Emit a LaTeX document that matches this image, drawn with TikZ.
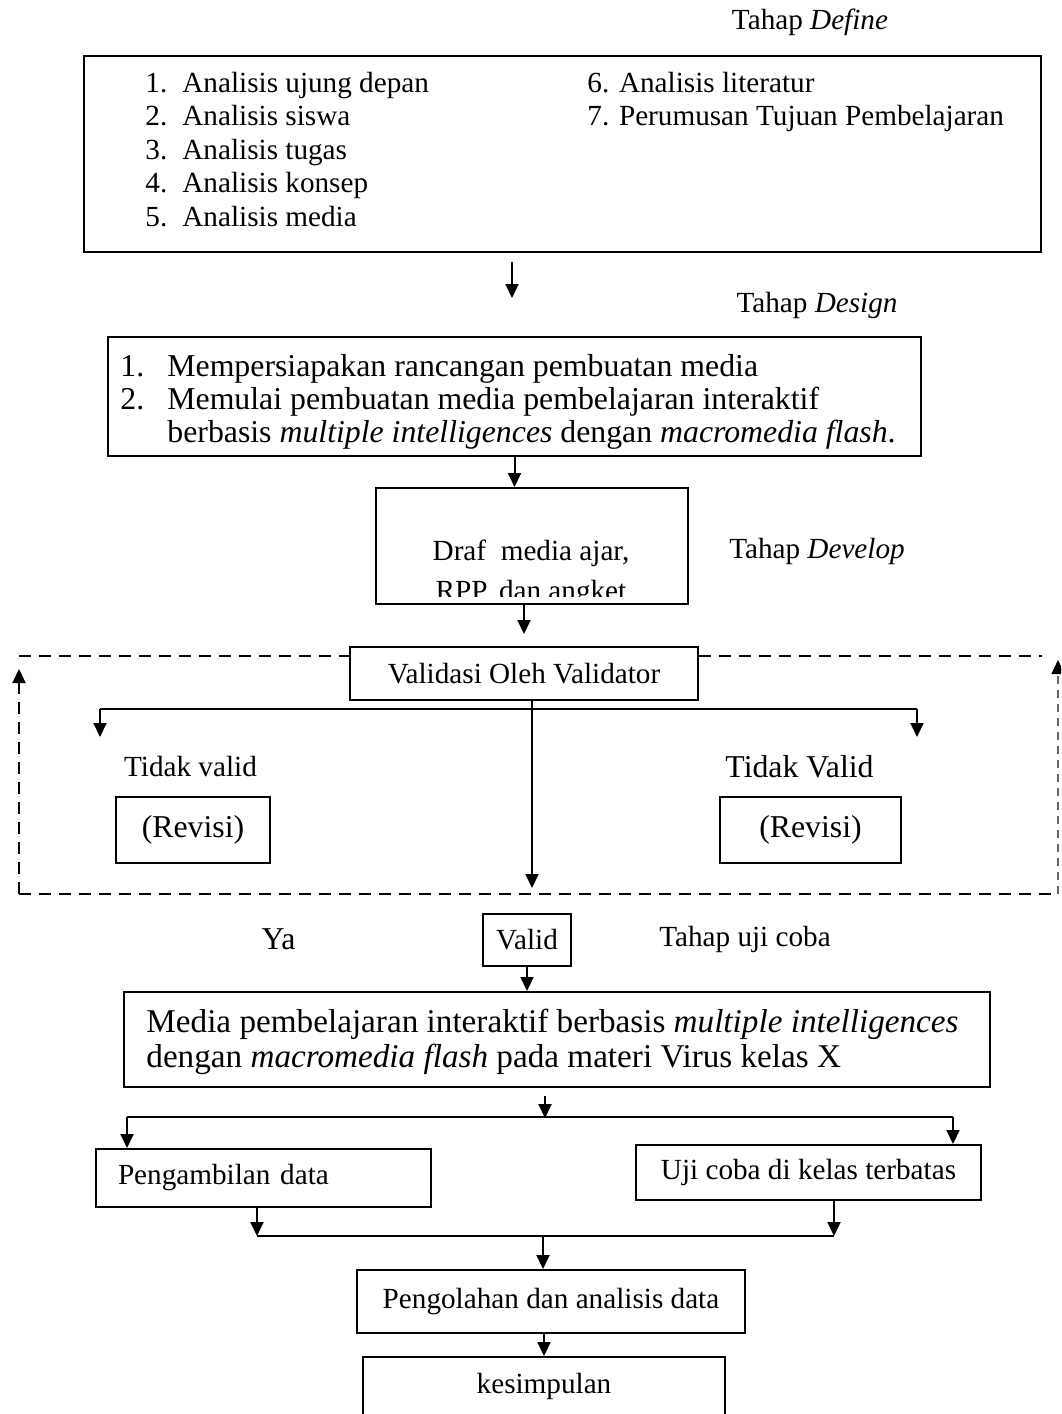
\documentclass[tikz,border=0pt]{standalone}
\usepackage{fontspec}
\setmainfont{Liberation Serif}
\usetikzlibrary{arrows.meta,positioning}
\tikzset{
  kotak/.style={draw,line width=1pt,inner sep=0pt},
  panah/.style={line width=1pt,-{Triangle[length=7pt,width=6.5pt]}},
  garis/.style={line width=1pt},
  putus/.style={line width=1pt,dash pattern=on 6pt off 4pt},
  teks/.style={inner sep=0pt,font=\fontsize{14.6}{16.8}\selectfont},
  teksbesar/.style={inner sep=0pt,font=\fontsize{15.9}{16.5}\selectfont},
  teksmedia/.style={inner sep=0pt,font=\fontsize{16.6}{17.5}\selectfont},
}

\begin{document}
\begin{tikzpicture}[x=0.5pt,y=-0.5pt]
\useasboundingbox (0,0) rectangle (1061,1414);
\clip (0,0) rectangle (1061,1414);

% tahap define
\node[teks,anchor=base] (tdefine) at (810,29) {Tahap \textit{Define}};
\node[kotak,minimum width=478.5pt,minimum height=98pt] (define) at (562.5,154) {};
\foreach \i/\isi in {1/ujung depan,2/siswa,3/tugas,4/konsep,5/media}
  \node[teks,anchor=base west] (def\i) at (145,{92+33.5*(\i-1)}) {\makebox[18.5pt][l]{\i.}Analisis \isi};
\node[teks,anchor=base west] (def6) at (587,92) {6. Analisis literatur};
\node[teks,anchor=base west] (def7) at (587,125.5) {7. Perumusan Tujuan Pembelajaran};
\coordinate (p1) at (512,262);
\coordinate (p2) at (512,298);
\draw[panah] (p1) -- (p2);

% tahap design
\node[teks,anchor=base] (tdesign) at (817,312) {Tahap \textit{Design}};
\node[kotak,minimum width=406.5pt,minimum height=59.5pt] (design) at (514.5,396.5) {};
\node[teksbesar,anchor=base west] (des1) at (120,376) {\makebox[23.5pt][l]{1.}Mempersiapakan rancangan pembuatan media};
\node[teksbesar,anchor=base west] (des2) at (120,409) {\makebox[23.5pt][l]{2.}Memulai pembuatan media pembelajaran interaktif};
\node[teksbesar,anchor=base west] (des3) at (167,442) {berbasis \textit{multiple intelligences} dengan \textit{macromedia flash}.};

% tahap develop
\node[kotak,minimum width=156pt,minimum height=58pt] (develop) at (532,546) {};
\begin{scope}
\clip (376,488) rectangle (688,596);
\node[teks,anchor=base] (dev1) at (531,560) {Draf\ \ media ajar,};
\node[teks,anchor=base] (dev2) at (531,600) {RPP, dan angket};
\end{scope}
\node[teks,anchor=base] (tdevelop) at (817,558) {Tahap \textit{Develop}};
\draw[panah] (design.south) -- (design.south |- develop.north);

% validasi
\node[kotak,teks,minimum width=174pt,minimum height=26.5pt] (validasi) at (524,673.5) {Validasi Oleh Validator};
\draw[panah,shorten >=6pt] (develop.south -| validasi.north) -- (validasi.north);
\coordinate (cabkiri) at (100,709);
\coordinate (cabkanan) at (917,709);
\draw[garis] (cabkiri) -- (cabkanan);
\draw[panah] (cabkiri) -- ++(0,28);
\draw[panah] (cabkanan) -- ++(0,28);
\coordinate (ujung) at (532,888);
\draw[panah] (validasi.south -| ujung) -- (ujung);
\node[teks] (tidak1) at (190.5,767) {Tidak valid};
\node[teks,font=\fontsize{15.9}{17}\selectfont] (tidak2) at (799.5,767) {Tidak Valid};
\node[kotak,teksbesar,minimum width=77pt,minimum height=33pt] (revisi1) at (193,830) {(Revisi)};
\node[kotak,teksbesar,minimum width=90.5pt,minimum height=33pt] (revisi2) at (810.5,830) {(Revisi)};

% garis putus-putus
\coordinate (pk1) at (19,656);
\coordinate (pk2) at (1042,656);
\coordinate (sudutkiri) at (19,894);
\coordinate (sudutkanan) at (1058,894);
\coordinate (tk1) at (19,669);
\coordinate (tk2) at (1058,660);
\draw[putus] (pk1) -- (pk1 -| validasi.west);
\draw[putus] (validasi.east |- pk2) -- (pk2);
\draw[putus] (sudutkiri) -- (sudutkanan);
\draw[putus,-{Triangle[length=7pt,width=6.5pt]}] (sudutkiri) -- (tk1);
\draw[line width=0.7pt,black!60,dash pattern=on 4pt off 3pt,-{Triangle[length=7pt,width=6.5pt,color=black]}] (sudutkanan) -- (tk2);

% tahap uji coba
\node[kotak,teks,minimum width=44pt,minimum height=26pt] (valid) at (527,940) {Valid};
\node[teksbesar] (ya) at (278.5,939) {Ya};
\node[teks] (tujicoba) at (745,939) {Tahap uji coba};
\node[kotak,minimum width=433pt,minimum height=47.5pt] (media) at (557,1039.5) {};
\node[teksmedia,anchor=base west] (med1) at (146,1032) {Media pembelajaran interaktif berbasis \textit{multiple intelligences}};
\node[teksmedia,anchor=base west] (med2) at (146,1067) {dengan \textit{macromedia flash} pada materi Virus kelas X};
\draw[panah] (valid.south) -- (valid.south |- media.north);
\coordinate (cab2kiri) at (127,1117);
\coordinate (cab2kanan) at (953,1117);
\draw[panah] ([shift={(-12,8)}]media.south) -- ++(0,22);
\draw[garis] (cab2kiri) -- (cab2kanan);
\node[kotak,teks,minimum height=29pt,text width=145.5pt,align=left,inner xsep=11pt] (ambil) at (263.5,1178) {Pengambilan data};
\node[kotak,teks,minimum width=172.5pt,minimum height=27.5pt] (uji) at (808.5,1172.5) {Uji coba di kelas terbatas};
\draw[panah] (cab2kiri) -- (cab2kiri |- ambil.north);
\draw[panah] (cab2kanan) -- (cab2kanan |- uji.north);
\coordinate (gab1) at (257,1236);
\coordinate (gab2) at (834,1236);
\coordinate (gab3) at (543,1236);
\draw[panah] (ambil.south -| gab1) -- (gab1);
\draw[panah] (uji.south -| gab2) -- (gab2);
\draw[garis] (gab1) -- (gab2);
\node[kotak,teks,minimum width=194pt,minimum height=31.5pt] (olah) at (551,1301.5) {Pengolahan dan analisis data};
\draw[panah] (gab3) -- (gab3 |- olah.north);
\node[kotak,teks,minimum width=181pt,minimum height=29pt] (simpul) at (544,1386) {kesimpulan};
\draw[panah] (olah.south -| simpul.north) -- (simpul.north);
\end{tikzpicture}
\end{document}
